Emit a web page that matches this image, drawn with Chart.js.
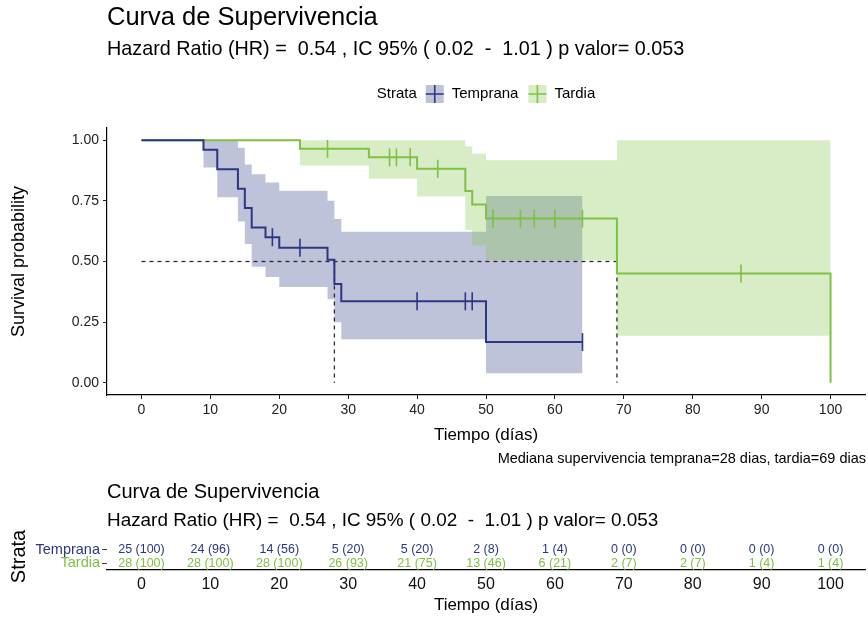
<!DOCTYPE html>
<html>
<head>
<meta charset="utf-8">
<script src="https://cdn.jsdelivr.net/npm/chart.js@4.4.1/dist/chart.umd.min.js"></script>
<style>
  html, body { margin: 0; padding: 0; background: #fff; }
  #wrap { position: relative; width: 868px; height: 620px; }
  canvas { position: absolute; left: 0; }
  #plot { top: 0; }
  #table { top: 470px; }
</style>
</head>
<body>
<div id="wrap">
  <canvas id="plot" width="868" height="470"></canvas>
  <canvas id="table" width="868" height="150"></canvas>
</div>
<script>
const FONT = '"Liberation Sans", Arial, sans-serif';
const NAVY = '#2b3784';
const GREEN = '#7dc243';
const NAVY_BAND = 'rgba(43, 55, 132, 0.3)';
const GREEN_BAND = 'rgba(125, 194, 67, 0.3)';

// textos
const title = 'Curva de Supervivencia';
const subtitle = 'Hazard Ratio (HR) =  0.54 , IC 95% ( 0.02  -  1.01 ) p valor= 0.053';
const caption = 'Mediana supervivencia temprana=28 dias, tardia=69 dias';
const strata = ['Temprana', 'Tardia'];

// Temprana: tiempos de evento, supervivencia e IC (valor desde ese tiempo)
const tempTimes = [0, 9, 11, 14, 15, 16, 18, 20, 27, 28, 29, 50, 64];
const tempSurv  = [1, 0.96, 0.88, 0.80, 0.72, 0.64, 0.60, 0.557, 0.507, 0.407, 0.336, 0.168, 0.168];
const tempUpper = [1, 1, 1, 0.969, 0.90, 0.859, 0.825, 0.791, 0.75, 0.675, 0.623, 0.77, 0.77];
const tempLower = [1, 0.887, 0.765, 0.665, 0.572, 0.478, 0.436, 0.395, 0.344, 0.25, 0.18, 0.04, 0.04];
const tempCensorTimes = [19, 23, 40, 47, 48, 64];
const tempCensorSurv  = [0.60, 0.557, 0.336, 0.336, 0.336, 0.168];

// Tardia
const tardTimes = [0, 23, 33, 40, 47, 48, 50, 69, 100];
const tardSurv  = [1, 0.964, 0.929, 0.882, 0.79, 0.735, 0.677, 0.451, 0];
const tardUpper = [1, 1, 1, 1, 0.975, 0.944, 0.917, 1, 1];
const tardLower = [1, 0.896, 0.841, 0.768, 0.63, 0.566, 0.505, 0.194, 0.194];
const tardCensorTimes = [27, 36, 37, 39, 43, 51, 55, 57, 60, 64, 87];
const tardCensorSurv  = [0.964, 0.929, 0.929, 0.929, 0.882, 0.677, 0.677, 0.677, 0.677, 0.677, 0.451];

// medianas
const medianSurv = 0.5;
const medianTimes = [28, 69];

// ejes
const xTicks = [0, 10, 20, 30, 40, 50, 60, 70, 80, 90, 100];
const yTicks = [0, 0.25, 0.5, 0.75, 1];

// tabla de riesgo
const riskTimes = [0, 10, 20, 30, 40, 50, 60, 70, 80, 90, 100];
const tempAtRisk    = [25, 24, 14, 5, 5, 2, 1, 0, 0, 0, 0];
const tempAtRiskPct = [100, 96, 56, 20, 20, 8, 4, 0, 0, 0, 0];
const tardAtRisk    = [28, 28, 28, 26, 21, 13, 6, 2, 2, 1, 1];
const tardAtRiskPct = [100, 100, 100, 93, 75, 46, 21, 7, 7, 4, 4];

Chart.defaults.font.family = FONT;
Chart.defaults.animation = false;

const pts = (xs, ys) => xs.map((x, i) => ({ x: x, y: ys[i] }));

function censorSet(xs, ys, color) {
    return {
        data: pts(xs, ys), showLine: false,
        pointStyle: 'line', pointRotation: 90, pointRadius: 9,
        pointBorderColor: color, pointBorderWidth: 1.6, pointHoverRadius: 9
    };
}
function curveSet(xs, ys, color) {
    return {
        data: pts(xs, ys), stepped: true, borderColor: color, borderWidth: 2,
        pointRadius: 0, fill: false
    };
}
function bandSet(xs, ys, fillColor, fill) {
    return {
        data: pts(xs, ys), stepped: true, borderColor: 'transparent', borderWidth: 0,
        pointRadius: 0, fill: fill, backgroundColor: fillColor
    };
}
function dashSet(data) {
    return {
        data: data, borderColor: '#2a2a2a', borderWidth: 1.3, borderDash: [4, 4],
        pointRadius: 0, fill: false
    };
}

const medianDash = [dashSet([{ x: 0, y: medianSurv }, { x: medianTimes[1], y: medianSurv }])];
medianTimes.forEach(t => medianDash.push(dashSet([{ x: t, y: medianSurv }, { x: t, y: 0 }])));

// sin relleno extra por etiquetas en los bordes
function noPad(s) {
    s.paddingLeft = 0; s.paddingRight = 0; s.paddingTop = 0; s.paddingBottom = 0;
}

// textos del grafico principal y leyenda
const plotText = {
    id: 'plotText',
    afterDraw(chart) {
        const ctx = chart.ctx;
        const area = chart.chartArea;
        ctx.save();
        ctx.fillStyle = '#000';
        ctx.textBaseline = 'middle';
        ctx.textAlign = 'left';
        ctx.font = '25.5px ' + FONT;
        ctx.fillText(title, area.left, 18);
        ctx.font = '19.8px ' + FONT;
        ctx.fillText(subtitle, area.left, 50);

        // leyenda
        ctx.font = '15px ' + FONT;
        const keys = [{ label: strata[0], line: NAVY, band: NAVY_BAND }, { label: strata[1], line: GREEN, band: GREEN_BAND }];
        const k = 18;
        let total = ctx.measureText('Strata').width + 9;
        keys.forEach((it, i) => { total += k + 8 + ctx.measureText(it.label).width + (i === 0 ? 10 : 0); });
        let x = (area.left + area.right) / 2 - total / 2;
        const y = 94;
        ctx.fillText('Strata', x, y);
        x += ctx.measureText('Strata').width + 9;
        keys.forEach((it) => {
            ctx.fillStyle = it.band;
            ctx.fillRect(x, y - k / 2, k, k);
            ctx.strokeStyle = it.line;
            ctx.lineWidth = 1.6;
            ctx.beginPath();
            ctx.moveTo(x, y); ctx.lineTo(x + k, y);
            ctx.moveTo(x + k / 2, y - k / 2); ctx.lineTo(x + k / 2, y + k / 2);
            ctx.stroke();
            x += k + 8;
            ctx.fillStyle = '#000';
            ctx.fillText(it.label, x, y);
            x += ctx.measureText(it.label).width + 10;
        });

        ctx.textAlign = 'right';
        ctx.font = '14.5px ' + FONT;
        ctx.fillText(caption, 866, 459);
        ctx.restore();
    }
};

new Chart(document.getElementById('plot'), {
    type: 'line',
    data: {
        datasets: [
            censorSet(tempCensorTimes, tempCensorSurv, NAVY),
            censorSet(tardCensorTimes, tardCensorSurv, GREEN),
            curveSet(tempTimes, tempSurv, NAVY),
            curveSet(tardTimes, tardSurv, GREEN),
            ...medianDash,
            bandSet(tardTimes, tardUpper, GREEN_BAND, '+1'),
            bandSet(tardTimes, tardLower, GREEN_BAND, false),
            bandSet(tempTimes, tempUpper, NAVY_BAND, '+1'),
            bandSet(tempTimes, tempLower, NAVY_BAND, false)
        ]
    },
    options: {
        responsive: false,
        devicePixelRatio: 1,
        events: [],
        layout: { autoPadding: false, padding: { top: 128, right: 3, bottom: 0, left: 0 } },
        plugins: { legend: { display: false }, tooltip: { enabled: false }, filler: { propagate: false } },
        scales: {
            x: {
                type: 'linear', min: -5, max: 105,
                afterBuildTicks: s => { s.ticks = xTicks.map(v => ({ value: v })); },
                afterFit: s => { s.height = 75; noPad(s); },
                ticks: { autoSkip: false, maxRotation: 0, padding: 3, color: '#222', font: { size: 14 }, callback: v => String(v) },
                grid: { display: true, drawOnChartArea: false, drawTicks: true, tickLength: 4, color: '#222', lineWidth: 1 },
                border: { display: true, color: '#000', width: 1.2 },
                title: { display: true, text: 'Tiempo (días)', color: '#000', font: { size: 17 }, padding: { top: 0, bottom: 24 } }
            },
            y: {
                type: 'linear', min: -0.05, max: 1.05,
                afterBuildTicks: s => { s.ticks = yTicks.map(v => ({ value: v })); },
                afterFit: s => { s.width = 107; noPad(s); },
                ticks: { autoSkip: false, padding: 4, color: '#222', font: { size: 14 }, callback: v => Number(v).toFixed(2) },
                grid: { display: true, drawOnChartArea: false, drawTicks: true, tickLength: 4, color: '#222', lineWidth: 1 },
                border: { display: true, color: '#000', width: 1.2 },
                title: { display: true, text: 'Survival probability', color: '#000', font: { size: 18 }, padding: { top: 8, bottom: 0 } }
            }
        }
    },
    plugins: [plotText]
});

// tabla de numero en riesgo
const tableText = {
    id: 'tableText',
    afterDatasetsDraw(chart) {
        const ctx = chart.ctx;
        const area = chart.chartArea;
        ctx.save();
        ctx.textBaseline = 'middle';
        ctx.textAlign = 'left';
        ctx.fillStyle = '#000';
        ctx.font = '20px ' + FONT;
        ctx.fillText(title, area.left, 22);
        ctx.font = '18.9px ' + FONT;
        ctx.fillText(subtitle, area.left, 51);

        ctx.textAlign = 'center';
        ctx.font = '12.5px ' + FONT;
        chart.data.datasets.forEach((ds, i) => {
            const meta = chart.getDatasetMeta(i);
            ctx.fillStyle = ds.textColor;
            meta.data.forEach((el, j) => {
                ctx.fillText(ds.counts[j] + ' (' + ds.pcts[j] + ')', el.x, el.y);
            });
        });
        ctx.restore();
    }
};

new Chart(document.getElementById('table'), {
    type: 'line',
    data: {
        datasets: [
            { data: riskTimes.map(t => ({ x: t, y: strata[0] })), showLine: false, pointRadius: 0,
              counts: tempAtRisk, pcts: tempAtRiskPct, textColor: NAVY },
            { data: riskTimes.map(t => ({ x: t, y: strata[1] })), showLine: false, pointRadius: 0,
              counts: tardAtRisk, pcts: tardAtRiskPct, textColor: GREEN }
        ]
    },
    options: {
        responsive: false,
        devicePixelRatio: 1,
        events: [],
        layout: { autoPadding: false, padding: { top: 73, right: 3, bottom: 0, left: 0 } },
        plugins: { legend: { display: false }, tooltip: { enabled: false } },
        scales: {
            x: {
                type: 'linear', min: -5, max: 105,
                afterBuildTicks: s => { s.ticks = xTicks.map(v => ({ value: v })); },
                afterFit: s => { s.height = 50; noPad(s); },
                ticks: { autoSkip: false, maxRotation: 0, padding: 5, color: '#111', font: { size: 16 }, callback: v => String(v) },
                grid: { display: false, drawTicks: false },
                border: { display: true, color: '#000', width: 1.2 },
                title: { display: true, text: 'Tiempo (días)', color: '#000', font: { size: 17 }, padding: { top: 0, bottom: 4 } }
            },
            y: {
                type: 'category', labels: strata, offset: true,
                afterFit: s => { s.width = 107; noPad(s); },
                ticks: { autoSkip: false, padding: 2, font: { size: 14.5, lineHeight: 1 }, color: c => (c.index === 0 ? NAVY : GREEN) },
                grid: { display: true, drawOnChartArea: false, drawTicks: true, tickLength: 5, color: '#444' },
                border: { display: false },
                title: { display: true, text: 'Strata', color: '#000', font: { size: 20 }, padding: { top: 7, bottom: 0 } }
            }
        }
    },
    plugins: [tableText]
});
</script>
</body>
</html>
